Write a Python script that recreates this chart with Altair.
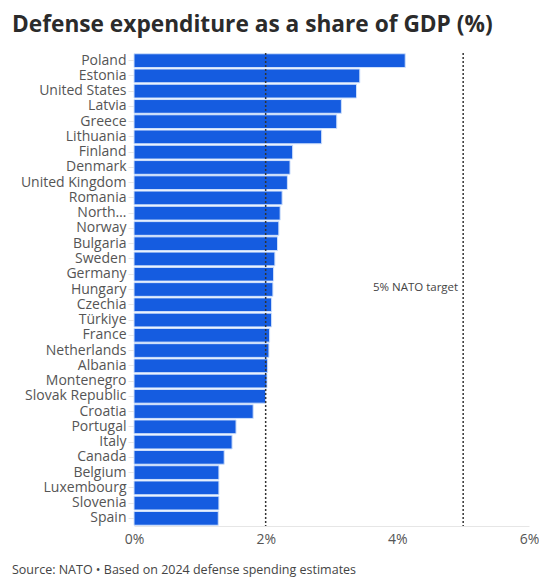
import altair as alt
import pandas as pd

countries = [
    "Poland", "Estonia", "United States", "Latvia", "Greece", "Lithuania",
    "Finland", "Denmark", "United Kingdom", "Romania", "North Macedonia",
    "Norway", "Bulgaria", "Sweden", "Germany", "Hungary", "Czechia",
    "Türkiye", "France", "Netherlands", "Albania", "Montenegro",
    "Slovak Republic", "Croatia", "Portugal", "Italy", "Canada", "Belgium",
    "Luxembourg", "Slovenia", "Spain",
]
share_gdp = [
    4.12, 3.43, 3.38, 3.15, 3.08, 2.85,
    2.41, 2.37, 2.33, 2.25, 2.22,
    2.20, 2.18, 2.14, 2.12, 2.11, 2.09,
    2.09, 2.06, 2.05, 2.03, 2.02,
    2.00, 1.81, 1.55, 1.49, 1.37, 1.29,
    1.29, 1.29, 1.28,
]
ref_lines = [2, 5]
ref_label = "5% NATO target"
source_note = "Source: NATO \u2022 Based on 2024 defense spending estimates"

FONT = "Open Sans"
W, H = 395, 473

df = pd.DataFrame({"country": countries, "share": share_gdp})

y_enc = alt.Y(
    "country:N", sort=countries, title=None,
    scale=alt.Scale(paddingInner=0.1, paddingOuter=0.05),
    axis=alt.Axis(
        labelFontSize=14, labelColor="#555555", labelFont=FONT,
        labelPadding=2, tickColor="#e6e6e6", tickSize=6, domain=False,
        labelLimit=200,
        labelExpr="datum.label == 'North Macedonia' ? 'North\u2026' : datum.label",
    ),
)
x_scale = alt.Scale(domain=[0, 6], nice=False)

bars = alt.Chart(df).mark_bar(
    color="#155ce0", stroke="#cfe0fb", strokeWidth=1
).encode(
    x=alt.X(
        "share:Q", scale=x_scale, title=None,
        axis=alt.Axis(
            values=[0, 2, 4, 6], labelExpr="datum.value + '%'",
            grid=False, ticks=False, domainColor="#e6e6e6",
            labelFontSize=14, labelColor="#555555", labelFont=FONT,
            labelPadding=6,
            labelFlush=False,
        ),
    ),
    y=y_enc,
)

rules = alt.Chart(pd.DataFrame({"x": ref_lines})).mark_rule(
    color="#333333", strokeDash=[2, 2], strokeWidth=1.5
).encode(x=alt.X("x:Q", scale=x_scale))

label = alt.Chart(pd.DataFrame({"x": [5], "country": ["Hungary"], "t": [ref_label]})).mark_text(
    align="right", baseline="bottom", dx=-5, dy=3, fontSize=11.5, color="#444444", font=FONT
).encode(
    x=alt.X("x:Q", scale=x_scale),
    y=alt.Y("country:N", sort=countries),
    text="t:N",
)

note = alt.Chart(pd.DataFrame({"t": [source_note]})).mark_text(
    align="left", baseline="alphabetic", fontSize=12.5, color="#444444", font=FONT
).encode(
    x=alt.value(-122), y=alt.value(H + 48), text="t:N"
)

chart = alt.layer(bars, rules, label, note).properties(
    width=W, height=H,
    title=alt.TitleParams(
        "Defense expenditure as a share of GDP (%)",
        anchor="start", frame="bounds", fontSize=22.7, font=FONT,
        fontWeight="bold", color="#2b2b2b", offset=16,
    ),
    padding={"left": 4, "right": 0, "top": 5, "bottom": 0},
).configure_view(stroke=None)

chart.save("out.html", embed_options={"renderer": "svg", "actions": False})
